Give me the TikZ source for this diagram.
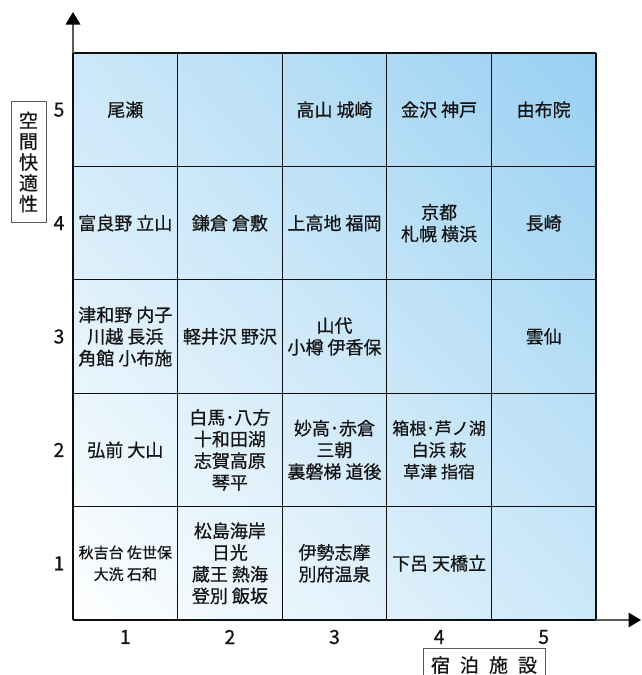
\documentclass[tikz,border=0pt]{standalone}
\usepackage{fontspec}
\setmainfont{Noto Sans CJK JP}[BoldFont=Noto Sans CJK JP, BoldFeatures={FakeBold=0.6}]
\usetikzlibrary{arrows.meta,shadings}
\definecolor{cellblue}{RGB}{152,208,242}
\definecolor{gridcol}{RGB}{15,15,15}
\definecolor{axiscol}{RGB}{90,90,90}
\definecolor{txt}{RGB}{20,20,20}
\tikzset{
  cell/.style={align=center, text=txt, inner sep=0pt, font=\fontsize{18}{21.7}\selectfont\bfseries},
  smallcell/.style={cell, font=\fontsize{15}{21.7}\selectfont\bfseries},
  midcell/.style={cell, font=\fontsize{17}{21.7}\selectfont\bfseries},
  num/.style={text=txt, inner sep=0pt, font=\fontsize{19.5}{20}\selectfont\bfseries},
  gridline/.style={draw=gridcol, line width=1.3pt},
  axisline/.style={draw=axiscol, line width=1.6pt},
  axisarrow/.style={axisline, -{Triangle[length=12.5pt,width=14.5pt,color=black]}},
  labelbox/.style={draw=axiscol, line width=1pt},
  labeltext/.style={text=txt, inner sep=0pt, font=\fontsize{19}{20.8}\selectfont\bfseries, align=center}
}
\begin{document}
\begin{tikzpicture}[x=1pt,y=-1pt]
\useasboundingbox (0,0) rectangle (642,675);
% shaded cells
\foreach \i in {0,...,4}{
  \foreach \j in {0,...,4}{
    \pgfmathsetmacro\xa{73+104.6*\i}
    \pgfmathsetmacro\xb{73+104.6*(\i+1)}
    \pgfmathsetmacro\ya{620-113.4*\j}
    \pgfmathsetmacro\yb{620-113.4*(\j+1)}
    \pgfmathtruncatemacro\ta{10*(\i+\j)}
    \pgfmathtruncatemacro\tb{10*(\i+\j+1)}
    \pgfmathtruncatemacro\tc{10*(\i+\j+2)}
    \shade[lower left=cellblue!\ta!white, upper right=cellblue!\tc!white,
           upper left=cellblue!\tb!white, lower right=cellblue!\tb!white]
      (\xa,\ya) rectangle (\xb,\yb);
  }
}
% grid lines
\foreach \k in {0,...,5}{
  \pgfmathsetmacro\xx{73+104.6*\k}
  \pgfmathsetmacro\yy{620-113.4*\k}
  \draw[gridline] (\xx,53) -- (\xx,620);
  \draw[gridline] (73,\yy) -- (596,\yy);
}
% axes
\coordinate (O) at (73,620);
\coordinate (ytip) at (73,12);
\coordinate (xtip) at (641,620);
\draw[axisarrow] (O) -- (ytip);
\draw[axisarrow] (O) -- (xtip);
\draw[draw=gridcol, line width=2pt] (73,620) -- (596,620);
\draw[draw=gridcol, line width=1.5pt] (73,620) -- (73,53);
% y numbers
\node[num] (y1) at (59,563.3) {1};
\node[num] (y2) at (59,449.9) {2};
\node[num] (y3) at (59,336.5) {3};
\node[num] (y4) at (59,223.1) {4};
\node[num] (y5) at (59,109.7) {5};
% x numbers
\node[num] (x1) at (125.3,637) {1};
\node[num] (x2) at (229.9,637) {2};
\node[num] (x3) at (334.5,637) {3};
\node[num] (x4) at (439.1,637) {4};
\node[num] (x5) at (543.7,637) {5};
% axis labels
\draw[labelbox] (11,101) rectangle (46,222);
\node[labeltext] (ylab) at (28.5,162) {空\\間\\快\\適\\性};
\draw[labelbox] (423,676) -- (423,648) -- (545,648) -- (545,676);
\node[labeltext] (xlab) at (484,665) {宿\hspace{10pt}泊\hspace{10pt}施\hspace{10pt}設};
% row 5
\node[cell] (c15) at (125.3,109.7) {尾瀬};
\node[cell] (c35) at (334.5,109.7) {高山 城崎};
\node[cell] (c45) at (439.1,109.7) {金沢 神戸};
\node[cell] (c55) at (543.7,109.7) {由布院};
% row 4
\node[cell] (c14) at (125.3,223.1) {富良野 立山};
\node[cell] (c24) at (229.9,223.1) {鎌倉 倉敷};
\node[cell] (c34) at (334.5,223.1) {上高地 福岡};
\node[cell] (c44) at (439.1,223.1) {京都\\札幌 横浜};
\node[cell] (c54) at (543.7,223.1) {長崎};
% row 3
\node[cell] (c13) at (125.3,336.5) {津和野 内子\\川越 長浜\\角館 小布施};
\node[cell] (c23) at (229.9,336.5) {軽井沢 野沢};
\node[cell] (c33) at (334.5,336.5) {山代\\小樽 伊香保};
\node[cell] (c53) at (543.7,336.5) {雲仙};
% row 2
\node[cell] (c12) at (125.3,449.9) {弘前 大山};
\node[cell] (c22) at (229.9,449.9) {白馬･八方\\十和田湖\\志賀高原\\琴平};
\node[cell] (c32) at (334.5,449.9) {妙高･赤倉\\三朝\\裏磐梯 道後};
\node[midcell] (c42) at (439.1,449.9) {箱根･芦ノ湖\\白浜 萩\\草津 指宿};
% row 1
\node[smallcell] (c11) at (125.3,563.3) {秋吉台 佐世保\\大洗 石和};
\node[cell] (c21) at (229.9,563.3) {松島海岸\\日光\\蔵王 熱海\\登別 飯坂};
\node[cell] (c31) at (334.5,563.3) {伊勢志摩\\別府温泉};
\node[cell] (c41) at (439.1,563.3) {下呂 天橋立};
\end{tikzpicture}
\end{document}
